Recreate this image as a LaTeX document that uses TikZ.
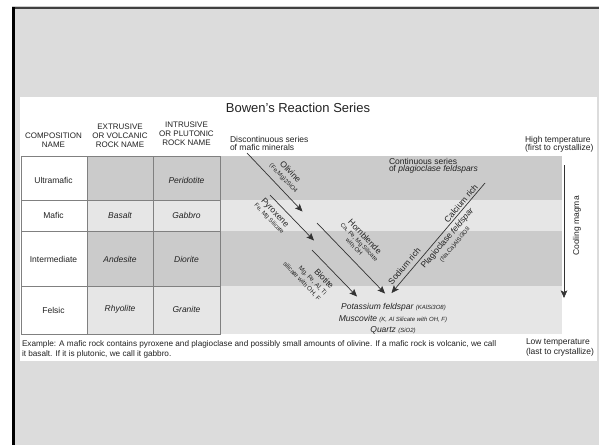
\documentclass[tikz,border=0pt]{standalone}
\usepackage{fontspec}
\setmainfont{Liberation Sans}
\usetikzlibrary{arrows.meta}
\definecolor{outer}{HTML}{DCDCDC}
\definecolor{bandD}{HTML}{CBCBCB}
\definecolor{bandL}{HTML}{E6E6E6}
\definecolor{gridc}{HTML}{808080}
\definecolor{ink}{HTML}{222222}
\definecolor{arr}{HTML}{333333}
\newcommand\fsz[2]{\fontsize{#1}{#2}\selectfont}
\begin{document}
\begin{tikzpicture}[x=1pt,y=-1pt,
  every node/.style={inner sep=0pt, outer sep=0pt, text=ink},
  conn/.style={draw=arr, line width=0.7pt, -{Stealth[length=7.5pt,width=6.5pt,inset=1.5pt]}},
  gridline/.style={draw=gridc, line width=0.8pt},
  hdr/.style={font=\fsz{8}{9}, align=center},
  lbl/.style={font=\fsz{8.5}{10}},
  rock/.style={font=\fsz{8.5}{10}\itshape},
  small/.style={font=\fsz{6}{7}},
]
\useasboundingbox (0,0) rectangle (599,445);
% slide frame
\fill[white] (0,0) rectangle (599,445);
\fill[outer] (13,7) rectangle (599,445);
\draw[line width=1pt, black!20] (12,6.5) -- (599,6.5);
\draw[line width=1.6pt, black!75] (12,8.2) -- (599,8.2);
\draw[line width=3pt, black] (13.5,7) -- (13.5,445);
\fill[white] (20,97) rectangle (597,361);

% bands
\fill[bandD] (87,156) rectangle (562,200);
\fill[bandL] (87,200) rectangle (562,231);
\fill[bandD] (87,231) rectangle (562,286);
\fill[bandL] (87,286) rectangle (562,334);
% table grid
\draw[gridline] (21,156) rectangle (220,334);
\draw[gridline] (87,156) -- (87,334);
\draw[gridline] (153,156) -- (153,334);
\draw[gridline] (21,200) -- (220,200);
\draw[gridline] (21,231) -- (220,231);
\draw[gridline] (21,286) -- (220,286);

% title
\node[font=\fsz{13}{15}] (title) at (298,108) {Bowen's Reaction Series};

% headers
\node[hdr] (hComp) at (53.5,140.5) {COMPOSITION\\NAME};
\node[hdr] (hExt) at (120,136) {EXTRUSIVE\\OR VOLCANIC\\ROCK NAME};
\node[hdr] (hInt) at (186.5,134) {INTRUSIVE\\OR PLUTONIC\\ROCK NAME};

% rows
\node[lbl] (rUltra) at (53.5,180) {Ultramafic};
\node[rock] (rPeri) at (186.5,180) {Peridotite};
\node[lbl] (rMafic) at (53.5,215.5) {Mafic};
\node[rock] (rBas) at (120,215.5) {Basalt};
\node[rock] (rGab) at (186.5,215.5) {Gabbro};
\node[lbl] (rInt) at (53.5,259) {Intermediate};
\node[rock] (rAnd) at (120,259) {Andesite};
\node[rock] (rDio) at (186.5,259) {Diorite};
\node[lbl] (rFel) at (53.5,310) {Felsic};
\node[rock] (rRhy) at (120,309.5) {Rhyolite};
\node[rock] (rGra) at (186.5,309.5) {Granite};

% series captions
\node[lbl, anchor=west] (disc1) at (230,139) {Discontinuous series};
\node[lbl, anchor=west] (disc2) at (230,147.5) {of mafic minerals};
\node[lbl, anchor=west] (cont1) at (389,161) {Continuous series};
\node[lbl, anchor=west] (cont2) at (389,169.5) {of \textit{plagioclase feldspars}};
\node[lbl, anchor=west] (hi1) at (525,140) {High temperature};
\node[lbl, anchor=west] (hi2) at (525,148.5) {(first to crystallize)};
\node[lbl, anchor=west] (lo1) at (526,342) {Low temperature};
\node[lbl, anchor=west] (lo2) at (526,352.5) {(last to crystallize)};

% example
\node[font=\fsz{8.2}{9}, anchor=west] (ex1) at (22,344.5) {Example: A mafic rock contains pyroxene and plagioclase and possibly small amounts of olivine. If a mafic rock is volcanic, we call};
\node[font=\fsz{8.2}{9}, anchor=west] (ex2) at (22,354) {it basalt. If it is plutonic, we call it gabbro.};

% arrow coordinates
\coordinate (olA) at (247,153);
\coordinate (olB) at (302.5,211.5);
\coordinate (pyA) at (270,195);
\coordinate (pyB) at (314,240.5);
\coordinate (hoA) at (317,223);
\coordinate (hoB) at (385,293.5);
\coordinate (biA) at (312,250);
\coordinate (biB) at (357,296.5);
\coordinate (plA) at (485,183);
\coordinate (plB) at (391.5,293);
\coordinate (coA) at (564,165);
\coordinate (coB) at (564,298);

\draw[conn] (olA) -- (olB) node[pos=0.54, sloped, above=6pt, align=center, font=\fsz{6}{8.5}] (olLab) {{\fsz{8.5}{9}Olivine}\\(Fe,Mg)2SiO4};
\draw[conn] (pyA) -- (pyB) node[pos=0.26, sloped, below=5.5pt, align=center, font=\fsz{6}{7.5}] (pyLab) {{\fsz{8.5}{9}Pyroxene}\\Fe, Mg Silicate};
\draw[conn] (hoA) -- (hoB) node[pos=0.44, sloped, above=8pt, align=center, font=\fsz{6}{7}] (hoLab) {{\fsz{8.5}{9}Hornblende}\\Ca, Fe, Mg Silicate\\with OH};
\draw[conn] (biA) -- (biB) node[pos=0.24, sloped, below=8pt, align=right, font=\fsz{6.3}{8.5}] (biLab) {{\fsz{8.5}{9}Biotite}\\Mg, Fe, Al, Ti\\silicate with OH, F};
\draw[conn] (plA) -- (plB);
\path (plB) -- (plA)
  node[pos=0.2, sloped, above=4.5pt, lbl] (sodium) {Sodium rich}
  node[pos=0.785, sloped, above=2pt, lbl] (calcium) {Calcium rich}
  node[pos=0.54, sloped, below=3.5pt, align=center, font=\fsz{6}{9}] (plLab) {{\fsz{8.5}{9}Plagioclase \textit{feldspar}}\\(Na,Ca)AlSi3O8};
\draw[conn] (coA) -- (coB);
\node[lbl, rotate=90] (cool) at (577,226) {Cooling magma};

% felsic minerals
\node[font=\fsz{8.5}{10}\itshape] (kfs) at (393.5,307.5) {Potassium feldspar {\fsz{6}{7}(KAlSi3O8)}};
\node[font=\fsz{8.5}{10}\itshape] (musc) at (393,319) {Muscovite {\fsz{6}{7}(K, Al Silicate with OH, F)}};
\node[font=\fsz{8.5}{10}\itshape] (qtz) at (393,330) {Quartz {\fsz{6}{7}(SiO2)}};
\end{tikzpicture}
\end{document}
